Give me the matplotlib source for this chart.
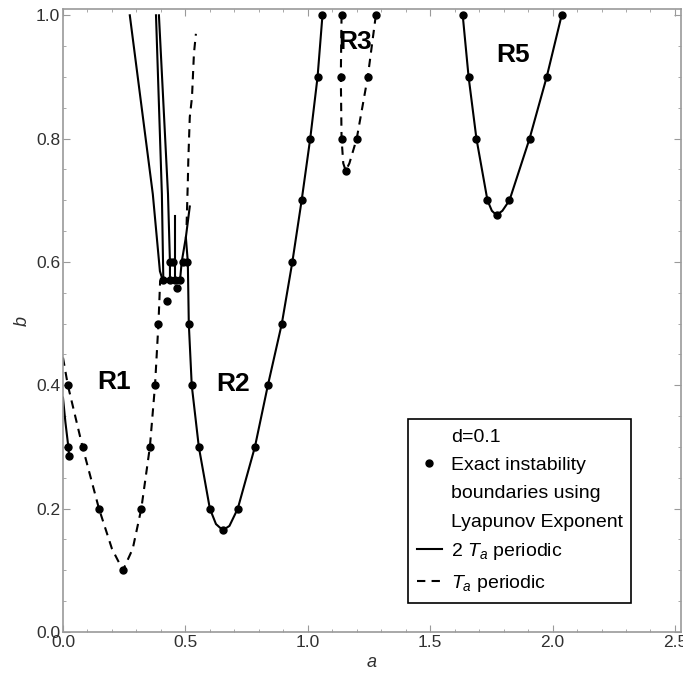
import matplotlib
matplotlib.use("Agg")
import matplotlib.pyplot as plt
from matplotlib.lines import Line2D
from matplotlib.ticker import MultipleLocator

plt.rcParams['font.family'] = ['Liberation Sans', 'DejaVu Sans']
plt.rcParams['mathtext.fontset'] = 'custom'
plt.rcParams['mathtext.rm'] = 'Liberation Sans'
plt.rcParams['mathtext.it'] = 'Liberation Sans:italic'

# ---- data (a, b) ----
# R1 : T_a periodic boundary (dashed)
r1_a = [0.0, 0.02, 0.08, 0.147, 0.2, 0.245, 0.285, 0.32, 0.355, 0.376, 0.39, 0.397]
r1_b = [0.445, 0.40, 0.30, 0.20, 0.135, 0.10, 0.135, 0.20, 0.30, 0.40, 0.50, 0.57]
# short 2T_a piece at a ~ 0
r1s_a = [0.0, 0.01, 0.022, 0.025]
r1s_b = [0.38, 0.34, 0.30, 0.285]

# R2 : 2T_a periodic boundary (solid)
r2_a = [0.518, 0.502, 0.51, 0.514, 0.526, 0.555, 0.60, 0.625, 0.653, 0.68, 0.714,
        0.784, 0.837, 0.894, 0.937, 0.975, 1.01, 1.04, 1.06]
r2_b = [0.69, 0.64, 0.60, 0.50, 0.40, 0.30, 0.20, 0.175, 0.165, 0.172, 0.20,
        0.30, 0.40, 0.50, 0.60, 0.70, 0.80, 0.90, 1.0]

# tangle of 2T_a branches between R1 and R2
br1_a = [0.273, 0.367, 0.396, 0.408]
br1_b = [1.0, 0.71, 0.585, 0.57]
br2_a = [0.38, 0.404, 0.41]
br2_b = [1.0, 0.71, 0.57]
br3_a = [0.392, 0.429, 0.437, 0.437]
br3_b = [1.0, 0.71, 0.60, 0.57]
br4_a = [0.457, 0.457]
br4_b = [0.675, 0.57]
br5_a = [0.502, 0.485, 0.478]
br5_b = [0.64, 0.60, 0.57]
# T_a branch going up from the tangle
tb_a = [0.505, 0.51, 0.512, 0.518, 0.527, 0.535, 0.543]
tb_b = [0.66, 0.73, 0.765, 0.835, 0.867, 0.938, 0.97]

# R3 : T_a periodic (dashed)
r3_a = [1.138, 1.135, 1.138, 1.145, 1.155, 1.17, 1.20, 1.245, 1.278]
r3_b = [1.0, 0.90, 0.80, 0.76, 0.748, 0.76, 0.80, 0.90, 1.0]

# R5 : 2T_a periodic (solid)
r5_a = [1.633, 1.657, 1.689, 1.734, 1.752, 1.771, 1.795, 1.824, 1.906, 1.976, 2.037]
r5_b = [1.0, 0.90, 0.80, 0.70, 0.683, 0.676, 0.683, 0.70, 0.80, 0.90, 1.0]

# exact instability boundaries (Lyapunov exponent)
dot_a = [0.02, 0.02, 0.025, 0.08, 0.147, 0.245, 0.32, 0.355, 0.376, 0.39,
         0.437, 0.449, 0.49, 0.506, 0.408, 0.437, 0.457, 0.478, 0.465, 0.424,
         0.514, 0.526, 0.555, 0.60, 0.653, 0.714, 0.784, 0.837, 0.894, 0.937,
         0.975, 1.01, 1.04, 1.06,
         1.138, 1.135, 1.138, 1.155, 1.20, 1.245, 1.278,
         1.633, 1.657, 1.689, 1.734, 1.771, 1.824, 1.906, 1.976, 2.037]
dot_b = [0.40, 0.30, 0.285, 0.30, 0.20, 0.10, 0.20, 0.30, 0.40, 0.50,
         0.60, 0.60, 0.60, 0.60, 0.57, 0.57, 0.57, 0.57, 0.557, 0.537,
         0.50, 0.40, 0.30, 0.20, 0.165, 0.20, 0.30, 0.40, 0.50, 0.60,
         0.70, 0.80, 0.90, 1.0,
         1.0, 0.90, 0.80, 0.748, 0.80, 0.90, 1.0,
         1.0, 0.90, 0.80, 0.70, 0.676, 0.70, 0.80, 0.90, 1.0]

region_names = ['R1', 'R2', 'R3', 'R5']
region_a = [0.208, 0.694, 1.192, 1.837]
region_b = [0.405, 0.402, 0.956, 0.935]

gray = '#9a9a9a'
txt = '#303030'
lw = 1.5
dash = (0, (4, 3))

fig = plt.figure(figsize=(6.83, 6.77), dpi=100)
ax = fig.add_axes([0.0922, 0.0665, 0.905, 0.920])

for xa, yb in [(r1s_a, r1s_b), (r2_a, r2_b), (br1_a, br1_b), (br2_a, br2_b),
               (br3_a, br3_b), (br4_a, br4_b), (br5_a, br5_b), (r5_a, r5_b)]:
    ax.plot(xa, yb, color='black', lw=lw, solid_joinstyle='round')
for xa, yb in [(r1_a, r1_b), (tb_a, tb_b), (r3_a, r3_b)]:
    ax.plot(xa, yb, color='black', lw=lw, linestyle=dash)

ax.plot(dot_a, dot_b, 'o', color='black', ms=5, clip_on=False, zorder=5)

for name, xa, yb in zip(region_names, region_a, region_b):
    ax.text(xa, yb, name, fontsize=19, fontweight='bold', ha='center', va='center')

ax.set_xlim(0, 2.525)
ax.set_ylim(0, 1.01)
ax.xaxis.set_major_locator(MultipleLocator(0.5))
ax.xaxis.set_minor_locator(MultipleLocator(0.1))
ax.yaxis.set_major_locator(MultipleLocator(0.2))
ax.yaxis.set_minor_locator(MultipleLocator(0.05))
ax.tick_params(which='both', direction='in', top=True, right=True, color=gray,
               labelcolor=txt, labelsize=12.5, pad=2)
ax.tick_params(which='major', length=5)
ax.tick_params(which='minor', length=2.5)
for s in ax.spines.values():
    s.set_color(gray)
    s.set_linewidth(1.2)

ax.set_xlabel('a', fontsize=13, style='italic', color=txt, labelpad=3)
ax.set_ylabel('b', fontsize=13, style='italic', color=txt, labelpad=4)

# legend: one row per text line so the dot sits on the first line
blank = Line2D([], [], ls='none')
handles = [blank,
           Line2D([], [], ls='none', marker='o', color='black', ms=5),
           blank, blank,
           Line2D([], [], color='black', lw=lw),
           Line2D([], [], color='black', lw=lw, linestyle=dash)]
labels = ['d=0.1', 'Exact instability', 'boundaries using', 'Lyapunov Exponent',
          '2 $T_a$ periodic', '$T_a$ periodic']
leg = ax.legend(handles, labels, loc='lower left', bbox_to_anchor=(0.558, 0.047),
                borderaxespad=0, fontsize=14, frameon=True, fancybox=False,
                framealpha=1, edgecolor='black', handlelength=1.3,
                handletextpad=0.45, labelspacing=0.55, borderpad=0.45)
leg.get_frame().set_linewidth(1.2)

plt.savefig('out.png', dpi=100)
